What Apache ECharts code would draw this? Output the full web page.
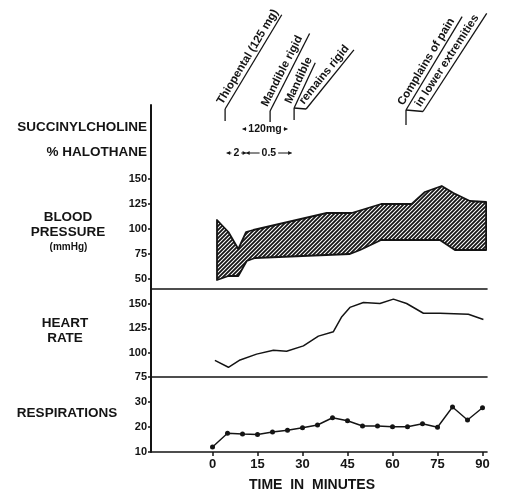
<!DOCTYPE html>
<html><head><meta charset="utf-8">
<script src="https://cdn.jsdelivr.net/npm/echarts@6/dist/echarts.min.js"></script>
<style>html,body{margin:0;padding:0;background:#fff}#c{width:508px;height:494px}</style>
</head><body><div id="c"></div>
<script>
// ---------------- data ----------------
const timeTicks = [0, 15, 30, 45, 60, 75, 90];

const bpUpperTime = [1.5, 5.3, 8.6, 11.2, 13.6, 38.1, 46.4, 56.2, 66.4, 70.8, 76.4, 80.3, 85.8, 91.2];
const bpUpper     = [109, 97, 80, 97, 99, 116, 116, 125, 125, 137, 143, 136, 128, 127];
const bpLowerTime = [1.5, 5.3, 8.6, 11.4, 14.2, 45.8, 49.2, 56.2, 75.8, 80.8, 91.2];
const bpLower     = [49, 53, 53, 68, 71, 75, 79, 89, 89, 79, 79];
const bpTicks = [50, 75, 100, 125, 150];

const hrTime = [0.8, 5.3, 9.2, 14.7, 20.3, 24.7, 30.3, 35.3, 40.3, 43.1, 45.8, 50.3, 55.8, 60.3, 64.7, 70.3, 75.8, 85.3, 90.3];
const hrValues = [92, 85, 92.5, 98.5, 102.5, 101.5, 107, 117, 121.5, 137, 146.5, 151.5, 150.5, 155, 150.5, 140.5, 140.5, 139.5, 134];
const hrTicks = [75, 100, 125, 150];

const respTime = [0, 5, 10, 15, 20, 25, 30, 35, 40, 45, 50, 55, 60, 65, 70, 75, 80, 85, 90];
const respValues = [12, 17.5, 17.2, 17, 18, 18.7, 19.7, 20.8, 23.7, 22.5, 20.4, 20.4, 20.1, 20.1, 21.3, 19.9, 28, 22.8, 27.7];
const respTicks = [10, 20, 30];

// events at top: time, label lines
const eventTimes = [4.2, 19.2, 27.2, 64.5];
const eventLabels = [
  ['Thiopental (125 mg)'],
  ['Mandible rigid'],
  ['Mandible', 'remains rigid'],
  ['Complains of pain', 'in lower extremities']
];
// drug spans: [start, end, label]
const succinylSpans = [[10, 25, '120mg']];
const halothaneSpans = [[4.7, 11.2, '2'], [11.2, 26.4, '0.5']];

// ---------------- chart ----------------
const INK = '#141414';
const FONT = '"Liberation Sans", Arial, sans-serif';
const chart = echarts.init(document.getElementById('c'));

function hatchCanvas() {
  const s = 4, c = document.createElement('canvas');
  c.width = s; c.height = s;
  const g = c.getContext('2d');
  g.strokeStyle = INK; g.lineWidth = 1.8;
  g.beginPath();
  g.moveTo(0, s); g.lineTo(s, 0);
  g.moveTo(-1, 1); g.lineTo(1, -1);
  g.moveTo(s - 1, s + 1); g.lineTo(s + 1, s - 1);
  g.stroke();
  return c;
}
const hatch = hatchCanvas();

const X_MIN = -20.5, X_MAX = 91.5;
function xAxis(idx, showLabels) {
  return {
    type: 'value', gridIndex: idx, min: X_MIN, max: X_MAX,
    axisLine: { onZero: false, lineStyle: { color: INK, width: 1.6 } },
    axisTick: showLabels ? { show: true, customValues: timeTicks, length: 4, lineStyle: { color: INK, width: 1.5 } } : { show: false },
    axisLabel: showLabels ? { show: true, customValues: timeTicks, margin: 6, color: INK, fontFamily: FONT, fontWeight: 'bold', fontSize: 13 } : { show: false },
    splitLine: { show: false },
    name: showLabels ? 'TIME  IN  MINUTES' : '',
    nameLocation: 'middle', nameGap: 26,
    nameTextStyle: { color: INK, fontFamily: FONT, fontWeight: 'bold', fontSize: 14, padding: [0, 14, 0, 0] }
  };
}
function yAxis(idx, min, max, ticks) {
  return {
    type: 'value', gridIndex: idx, min: min, max: max,
    axisLine: { show: true, onZero: false, lineStyle: { color: INK, width: 2 } },
    axisTick: { show: true, customValues: ticks, length: 3, lineStyle: { color: INK, width: 1.5 } },
    axisLabel: { show: true, customValues: ticks, margin: 4, color: INK, fontFamily: FONT, fontWeight: 'bold', fontSize: 11 },
    splitLine: { show: false }
  };
}

const LEFT = 151, RIGHT = 508 - 487;
const option = {
  backgroundColor: '#fff',
  animation: false,
  grid: [
    { left: LEFT, right: RIGHT, top: 105, height: 184, outerBoundsMode: 'none' },
    { left: LEFT, right: RIGHT, top: 289, height: 88, outerBoundsMode: 'none' },
    { left: LEFT, right: RIGHT, top: 377, height: 75, outerBoundsMode: 'none' }
  ],
  xAxis: [xAxis(0, false), xAxis(1, false), xAxis(2, true)],
  yAxis: [yAxis(0, 40, 224, bpTicks), yAxis(1, 75, 165.4, hrTicks), yAxis(2, 10, 40, respTicks)],
  series: [
    {
      type: 'custom', xAxisIndex: 0, yAxisIndex: 0,
      data: [[bpUpperTime[0], bpUpper[0]]],
      renderItem: function (params, api) {
        const pts = [];
        bpUpperTime.forEach((t, i) => pts.push(api.coord([t, bpUpper[i]])));
        for (let i = bpLowerTime.length - 1; i >= 0; i--) pts.push(api.coord([bpLowerTime[i], bpLower[i]]));
        return {
          type: 'polygon',
          shape: { points: pts },
          style: { fill: { image: hatch, repeat: 'repeat' }, stroke: INK, lineWidth: 1.8, lineJoin: 'round' }
        };
      }
    },
    {
      type: 'line', xAxisIndex: 1, yAxisIndex: 1,
      data: hrTime.map((t, i) => [t, hrValues[i]]),
      showSymbol: false, symbol: 'none',
      lineStyle: { color: INK, width: 1.5 }
    },
    {
      type: 'line', xAxisIndex: 2, yAxisIndex: 2,
      data: respTime.map((t, i) => [t, respValues[i]]),
      symbol: 'circle', symbolSize: 5,
      itemStyle: { color: INK },
      lineStyle: { color: INK, width: 1.4 }
    }
  ]
};
chart.setOption(option);

// ---------------- annotations ----------------
const mctx = document.createElement('canvas').getContext('2d');
function measure(txt, size) { mctx.font = 'bold ' + size + 'px ' + FONT; return mctx.measureText(txt).width; }
function px(t) { return chart.convertToPixel({ xAxisIndex: 0 }, t); }

const els = [];
function txt(x, y, s, size, align, weight) {
  els.push({ type: 'text', x: x, y: y, style: { text: s, fill: INK, font: (weight || 'bold') + ' ' + size + 'px ' + FONT, align: align || 'center', verticalAlign: 'middle' } });
}
function seg(x1, y1, x2, y2, w) {
  els.push({ type: 'line', shape: { x1: x1, y1: y1, x2: x2, y2: y2 }, style: { stroke: INK, lineWidth: w || 1.2 } });
}
function arrowHead(x, y, dir) {
  els.push({ type: 'polygon', shape: { points: [[x, y], [x - dir * 3.5, y - 2], [x - dir * 3.5, y + 2]] }, style: { fill: INK } });
}

// left labels
txt(147, 127, 'SUCCINYLCHOLINE', 13.5, 'right');
txt(147, 152, '% HALOTHANE', 13.5, 'right');
txt(68, 217, 'BLOOD', 13.5);
txt(68, 232, 'PRESSURE', 13.5);
txt(68.5, 247, '(mmHg)', 10);
txt(65, 323, 'HEART', 13.5);
txt(65, 338, 'RATE', 13.5);
txt(67, 413, 'RESPIRATIONS', 13.5);

// drug spans
function drawSpan(sp, y, size) {
  const x1 = px(sp[0]), x2 = px(sp[1]), xm = (x1 + x2) / 2;
  const w = measure(sp[2], size) / 2 + 2;
  txt(xm, y, sp[2], size);
  seg(x1, y, xm - w, y, 1);
  seg(xm + w, y, x2, y, 1);
  arrowHead(x1, y, -1);
  arrowHead(x2, y, 1);
}
succinylSpans.forEach(sp => drawSpan(sp, 129, 10.5));
halothaneSpans.forEach(sp => drawSpan(sp, 153, 10.5));

// event annotations (layout per event)
const evLayout = [
  { bot: 121, top: 109, lines: [{ dx: 0, dy: 0, a: 59, len: 110 }] },
  { bot: 122, top: 111, lines: [{ dx: 0, dy: 0, a: 63, len: 87 }] },
  { bot: 120, top: 108, lines: [{ dx: 0, dy: 0, a: 65, len: 50 }, { dx: 12, dy: 1, a: 51, len: 76 }] },
  { bot: 125, top: 110, lines: [{ dx: 0, dy: 0, a: 59, len: 109 }, { dx: 17, dy: 1.5, a: 57, len: 117 }] }
];
eventTimes.forEach((t, k) => {
  const x = px(t), L = evLayout[k];
  seg(x, L.bot, x, L.top, 1.3);
  L.lines.forEach((ln, j) => {
    const sx = x + ln.dx, sy = L.top + ln.dy;
    if (ln.dx) seg(x, L.top, sx, sy, 1.3);
    els.push({
      type: 'group', x: sx, y: sy, rotation: ln.a * Math.PI / 180,
      children: [
        { type: 'line', shape: { x1: 0, y1: 0, x2: ln.len, y2: 0 }, style: { stroke: INK, lineWidth: 1.3 } },
        { type: 'text', x: 2, y: -1.5, style: { text: eventLabels[k][j], fill: INK, font: 'bold 11.5px ' + FONT, align: 'left', verticalAlign: 'bottom' } }
      ]
    });
  });
});

chart.setOption({ graphic: els });
</script>
</body></html>
